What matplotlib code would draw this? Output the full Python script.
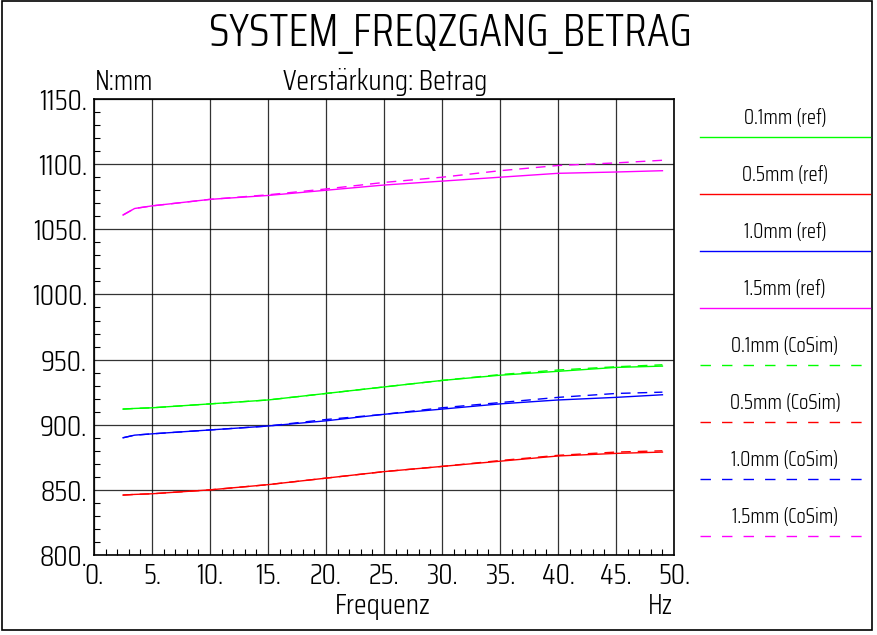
import numpy as np
import matplotlib
matplotlib.use('Agg')
import matplotlib.pyplot as plt
from matplotlib.ticker import MultipleLocator, FuncFormatter
from matplotlib.patches import Rectangle

plt.rcParams['font.family'] = ['Saira Condensed', 'DejaVu Sans']
plt.rcParams['font.weight'] = 300

# frequency points (Hz)
freq = [2.5, 3.5, 5, 10, 15, 20, 25, 30, 35, 40, 45, 49]

# reference curves
ref_01 = [912, 912.5, 913, 916, 919, 924, 929, 934, 938, 941, 944, 945]
ref_05 = [846, 846.5, 847, 850, 854, 859, 864, 868, 872, 876, 878, 879]
ref_10 = [890, 892, 893, 896, 899, 903, 908, 912, 916, 919, 921, 923]
ref_15 = [1061, 1066, 1068, 1073, 1076, 1080, 1084, 1087, 1090, 1093, 1094, 1095]

# CoSim curves
cos_01 = [912, 912.5, 913, 916, 919, 924, 929, 934, 938.5, 942, 944.5, 946]
cos_05 = [846, 846.5, 847, 850, 854, 859, 864, 868, 872.5, 876.5, 879, 880]
cos_10 = [890, 892, 893, 896, 899, 904, 908, 913, 917, 921, 924, 925]
cos_15 = [1061, 1066, 1068, 1073, 1076.5, 1081, 1086, 1090, 1095, 1099, 1101, 1103]

labels = ['0.1mm (ref)', '0.5mm (ref)', '1.0mm (ref)', '1.5mm (ref)',
          '0.1mm (CoSim)', '0.5mm (CoSim)', '1.0mm (CoSim)', '1.5mm (CoSim)']
colors = ['#00ff00', '#ff0000', '#0000ff', '#ff00ff'] * 2
styles = ['-'] * 4 + ['--'] * 4
series = [ref_01, ref_05, ref_10, ref_15, cos_01, cos_05, cos_10, cos_15]

fig = plt.figure(figsize=(8.78, 6.35), dpi=100)
ax = fig.add_axes([0.1071, 0.126, 0.6606, 0.718])

for y, c, ls in zip(series, colors, styles):
    if ls == '--':
        ax.plot(freq, y, color=c, lw=1.0, ls=(0, (7, 5)))
    else:
        ax.plot(freq, y, color=c, lw=1.0)

ax.set_xlim(0, 50)
ax.set_ylim(800, 1150)
ax.xaxis.set_major_locator(MultipleLocator(5))
ax.xaxis.set_minor_locator(MultipleLocator(1))
ax.yaxis.set_major_locator(MultipleLocator(50))
ax.yaxis.set_minor_locator(MultipleLocator(10))
fmt = FuncFormatter(lambda v, p: '%d.' % v)
ax.xaxis.set_major_formatter(fmt)
ax.yaxis.set_major_formatter(fmt)
ax.grid(True, which='major', color='black', lw=0.9, alpha=0.8)
ax.tick_params(which='both', direction='in', color='black')
ax.tick_params(which='major', length=0, labelsize=21, pad=5)
ax.tick_params(which='minor', length=4, width=0.8)
for s in ax.spines.values():
    s.set_linewidth(1.2)

# texts
fig.text(0.513, 0.948, 'SYSTEM_FREQZGANG_BETRAG', ha='center', va='center', fontsize=33)
fig.text(0.108, 0.871, 'N:mm', ha='left', va='center', fontsize=20)
fig.text(385 / 878, 0.871, 'Verstärkung: Betrag', ha='center', va='center', fontsize=21)
fig.text(383 / 878, 0.045, 'Frequenz', ha='center', va='center', fontsize=21)
fig.text(660 / 878, 0.045, 'Hz', ha='center', va='center', fontsize=20)

# legend drawn at the right
for i, (lab, c, ls) in enumerate(zip(labels, colors, styles)):
    ty = 118 + i * 57
    ly = 137 + i * 57
    fig.text(785 / 878, 1 - ty / 635, lab, ha='center', va='center', fontsize=15)
    x0 = 700 / 878
    x1 = (870 if ls == '-' else 862) / 878
    dash = (0, (7.5, 8)) if ls == '--' else '-'
    fig.add_artist(plt.Line2D([x0, x1], [1 - ly / 635] * 2, color=c, lw=1.0,
                              ls=dash, transform=fig.transFigure))

# outer frame
fig.add_artist(Rectangle((0.002, 0.008), 0.991, 0.99, transform=fig.transFigure,
                         fill=False, ec='black', lw=1.2))

fig.savefig('out.png', dpi=100)
